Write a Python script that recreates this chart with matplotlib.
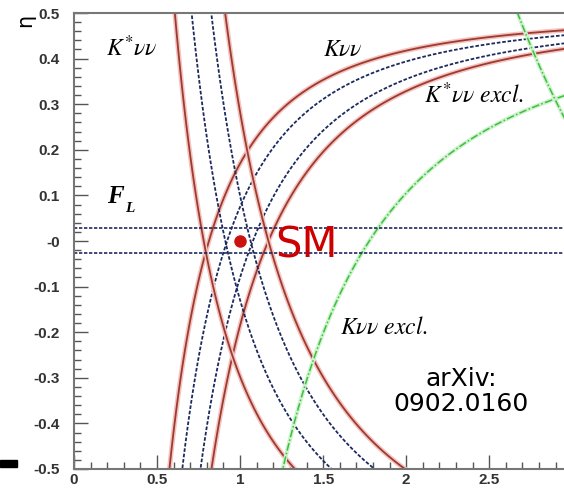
import numpy as np
import matplotlib.pyplot as plt
from matplotlib.patches import Rectangle

plt.rcParams["mathtext.fontset"] = "stix"

# constraint levels (ratio to SM)
kappa = 1.31
knn_levels = [0.66, 0.85, 1.16, 1.37]
kstar_levels = [0.61, 0.83, 1.13, 1.37]
knn_excl = 3.16
kstar_excl = 11.8
fl_eta = [0.028, -0.027]
sm_eps, sm_eta = 1.0, 0.0

xticks = [0, 0.5, 1, 1.5, 2, 2.5]
xticklabels = ["0", "0.5", "1", "1.5", "2", "2.5"]
yticks = [0.5, 0.4, 0.3, 0.2, 0.1, 0.0, -0.1, -0.2, -0.3, -0.4, -0.5]
yticklabels = ["0.5", "0.4", "0.3", "0.2", "0.1", "-0", "-0.1", "-0.2", "-0.3", "-0.4", "-0.5"]

red = "#9e3a30"
blue = "#1c2a5e"
green = "#3fbf3f"
band_colors = [red, blue, blue, red]

fig = plt.figure(figsize=(5.64, 4.88), dpi=100)
ax = fig.add_axes([74 / 564, 19 / 488, 1 - 74 / 564, 456 / 488])

e = np.linspace(0.001, 3.1, 700)
h = np.linspace(-0.53, 0.53, 700)
E, H = np.meshgrid(e, h)
r_knn = E ** 2 * (1 - 2 * H)
r_kstar = E ** 2 * (1 + kappa * H)


def band(field, levels):
    for lev, col in zip(levels, band_colors):
        if col == red:
            ax.contour(E, H, field, levels=[lev], colors="#f3c4c0", linewidths=3.5)
            ax.contour(E, H, field, levels=[lev], colors=red, linewidths=1.3)
        else:
            cs = ax.contour(E, H, field, levels=[lev], colors=blue, linewidths=1.3)
            cs.set_linestyle((0, (2.0, 1.0)))


band(r_knn, knn_levels)
band(r_kstar, kstar_levels)

for field, lev in [(r_knn, knn_excl), (r_kstar, kstar_excl)]:
    ax.contour(E, H, field, levels=[lev], colors="#cdf2cd", linewidths=3.0)
    cs = ax.contour(E, H, field, levels=[lev], colors=green, linewidths=1.1)
    cs.set_linestyle((0, (5, 1.5, 1, 1.5)))

for y in fl_eta:
    ax.axhline(y, color=blue, lw=1.2, ls=(0, (2.0, 1.0)))

ax.plot([sm_eps], [sm_eta], "o", color="#cc1111", ms=8)
ax.text(1.21, -0.01, "SM", color="#cc0000", fontsize=30, va="center", ha="left")

ax.text(0.19, 0.423, r"$K^{*}\nu\nu$", fontsize=17, va="center")
ax.text(1.50, 0.42, r"$K\nu\nu$", fontsize=17, va="center")
ax.text(2.11, 0.32, r"$K^{*}\nu\nu\ excl.$", fontsize=17, va="center")
ax.text(1.60, -0.189, r"$K\nu\nu\ excl.$", fontsize=17, va="center")
ax.text(0.2, 0.098, "F", family="Liberation Serif", style="italic", weight="bold",
        fontsize=18, va="center")
ax.text(0.305, 0.072, "L", family="Liberation Serif", style="italic", weight="bold",
        fontsize=11, va="center")

ax.text(2.33, -0.33, "arXiv:\n0902.0160", fontsize=18, ha="center", va="center",
        linespacing=1.05)

ax.set_xlim(0, 2.95)
ax.set_ylim(-0.5, 0.5)
ax.set_xticks(xticks)
ax.set_xticklabels(xticklabels)
ax.set_yticks(yticks)
ax.set_yticklabels(yticklabels)
ax.set_xticks(np.arange(0, 2.95, 0.1), minor=True)
ax.set_yticks(np.arange(-0.5, 0.501, 0.02), minor=True)
ax.tick_params(which="both", direction="in", color="#555555", width=1.0)
ax.tick_params(which="major", length=10)
ax.tick_params(which="minor", length=5)
ax.tick_params(axis="y", pad=10)
ax.tick_params(axis="x", pad=3)
for lab in ax.get_xticklabels() + ax.get_yticklabels():
    lab.set_fontfamily("Liberation Sans")
    lab.set_fontweight("bold")
    lab.set_fontsize(11)
    lab.set_color("#333333")

ax.spines["right"].set_visible(False)
for s in ["top", "left", "bottom"]:
    ax.spines[s].set_color("#777777")
    ax.spines[s].set_linewidth(1.5)

fig.text(0.045, 0.958, "η", rotation=90, fontsize=15, ha="center", va="center")
fig.add_artist(Rectangle((0, 1 - 467 / 488), 17 / 564, 7 / 488, color="black",
                         transform=fig.transFigure))

fig.savefig("out.png", dpi=100)
